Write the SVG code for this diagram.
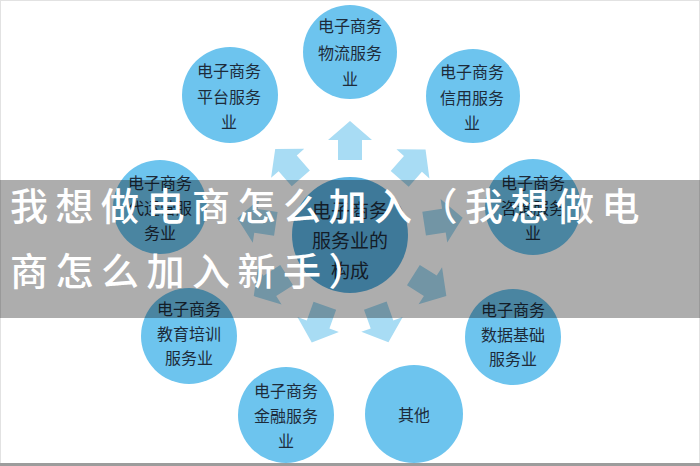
<svg xmlns="http://www.w3.org/2000/svg" xmlns:xlink="http://www.w3.org/1999/xlink" width="700" height="466" viewBox="0 0 700 466">
<style>
.outer{fill:#6dc4ee}
.center{fill:#5cb3e2}
.t{font-family:"Noto Sans CJK SC","Noto Sans",sans-serif;font-size:16px;fill:#1d2b3a;text-anchor:middle;dominant-baseline:central}
.tc{font-size:19px}
.arr{fill:#a8dcf4}
.banner{font-family:"Noto Sans CJK SC","Noto Sans",sans-serif;font-size:38px;fill:#ffffff;font-weight:500;letter-spacing:7.5px}
</style>
<defs>
<polygon id="arrow" points="75,-12 95,-12 95,-22 114,0 95,22 95,12 75,12"/>
</defs>
<rect x="0" y="0" width="700" height="466" fill="#ffffff"/>
<rect x="0.5" y="0.5" width="699" height="465" fill="none" stroke="#e2e2e2"/>
<g id="connectors" class="arr">
<use xlink:href="#arrow" href="#arrow" transform="translate(350,235) rotate(-90)"/>
<use xlink:href="#arrow" href="#arrow" transform="translate(350,235) rotate(-131)"/>
<use xlink:href="#arrow" href="#arrow" transform="translate(350,235) rotate(-48.5)"/>
<use xlink:href="#arrow" href="#arrow" transform="translate(350,235) rotate(-171.5)"/>
<use xlink:href="#arrow" href="#arrow" transform="translate(350,235) rotate(-8.7)"/>
<use xlink:href="#arrow" href="#arrow" transform="translate(350,235) rotate(147.6)"/>
<use xlink:href="#arrow" href="#arrow" transform="translate(350,235) rotate(32.3)"/>
<use xlink:href="#arrow" href="#arrow" transform="translate(350,235) rotate(109.6)"/>
<use xlink:href="#arrow" href="#arrow" transform="translate(350,235) rotate(70.3)"/>
</g>
<g id="node-center">
<circle class="center" cx="350" cy="235" r="58"/>
<text class="t tc" x="350" y="209">电子商务</text>
<text class="t tc" x="350" y="239">服务业的</text>
<text class="t tc" x="350" y="269">构成</text>
</g>
<g id="node-logistics">
<circle class="outer" cx="350" cy="52" r="47"/>
<text class="t" x="350" y="25">电子商务</text>
<text class="t" x="350" y="52">物流服务</text>
<text class="t" x="350" y="78">业</text>
</g>
<g id="node-platform">
<circle class="outer" cx="230" cy="95" r="48"/>
<text class="t" x="229" y="70">电子商务</text>
<text class="t" x="229" y="96">平台服务</text>
<text class="t" x="229" y="121">业</text>
</g>
<g id="node-credit">
<circle class="outer" cx="473" cy="96" r="47"/>
<text class="t" x="472" y="71">电子商务</text>
<text class="t" x="472" y="97">信用服务</text>
<text class="t" x="472" y="122">业</text>
</g>
<g id="node-operation">
<circle class="outer" cx="160" cy="207" r="47"/>
<text class="t" x="160" y="182">电子商务</text>
<text class="t" x="160" y="207">代运营服</text>
<text class="t" x="160" y="232">务业</text>
</g>
<g id="node-consulting">
<circle class="outer" cx="533" cy="207" r="48"/>
<text class="t" x="533" y="182">电子商务</text>
<text class="t" x="533" y="207">咨询服务</text>
<text class="t" x="533" y="232">业</text>
</g>
<g id="node-education">
<circle class="outer" cx="189" cy="336" r="48"/>
<text class="t" x="189" y="308">电子商务</text>
<text class="t" x="189" y="333">教育培训</text>
<text class="t" x="189" y="357">服务业</text>
</g>
<g id="node-data">
<circle class="outer" cx="513" cy="337" r="48"/>
<text class="t" x="513" y="309">电子商务</text>
<text class="t" x="513" y="334">数据基础</text>
<text class="t" x="513" y="358">服务业</text>
</g>
<g id="node-finance">
<circle class="outer" cx="286" cy="415" r="48"/>
<text class="t" x="286" y="390">电子商务</text>
<text class="t" x="286" y="415">金融服务</text>
<text class="t" x="286" y="440">业</text>
</g>
<g id="node-other">
<circle class="outer" cx="414" cy="414" r="49"/>
<text class="t" x="414" y="414">其他</text>
</g>
<rect x="0" y="463" width="700" height="3" fill="#9c9c9c"/>
<g id="watermark">
<rect x="0" y="180" width="700" height="138" fill="#000000" fill-opacity="0.32"/>
<text class="banner" x="10" y="220">我想做电商怎么加入（我想做电</text>
<text class="banner" x="10" y="285">商怎么加入新手）</text>
</g>
</svg>
